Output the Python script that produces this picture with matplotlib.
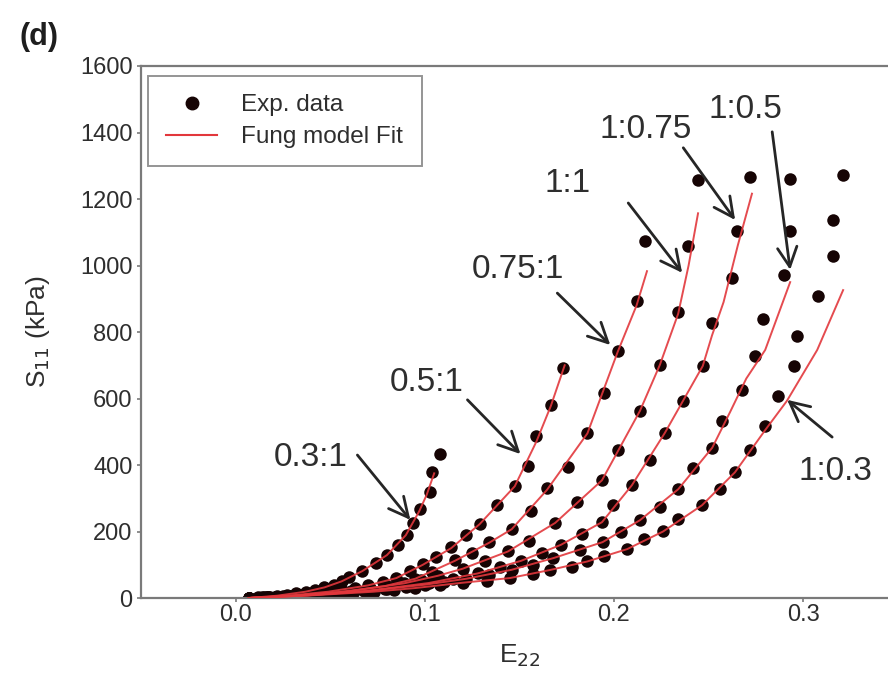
import matplotlib
matplotlib.use('Agg')
import matplotlib.pyplot as plt
from matplotlib.lines import Line2D

plt.rcParams['font.family'] = ['Liberation Sans', 'DejaVu Sans']

# ---------------- data ----------------
ratios = ['0.3:1', '0.5:1', '0.75:1', '1:1', '1:0.75', '1:0.5', '1:0.3']
x_ticks = [0.0, 0.1, 0.2, 0.3]
x_tick_labels = ['0.0', '0.1', '0.2', '0.3']
y_ticks = [0, 200, 400, 600, 800, 1000, 1200, 1400, 1600]

# experimental data, E22 and S11 (kPa)
e03_x = [0.007, 0.012, 0.017, 0.022, 0.027, 0.032, 0.037, 0.042, 0.047, 0.052, 0.056, 0.060, 0.067, 0.074, 0.080, 0.086, 0.0905, 0.094, 0.0974, 0.1026, 0.104, 0.108]
e03_y = [0, 2, 4, 7, 10, 14, 19, 25, 32, 40, 50, 63, 81, 105, 129, 159, 189, 225, 267, 318, 378, 434]

e05_x = [0.007, 0.014, 0.021, 0.028, 0.035, 0.042, 0.049, 0.056, 0.063, 0.070, 0.078, 0.085, 0.092, 0.099, 0.106, 0.114, 0.122, 0.129, 0.138, 0.1476, 0.1545, 0.159, 0.1667, 0.173]
e05_y = [0, 2, 4, 7, 10, 14, 19, 24, 30, 38, 48, 60, 80, 102, 123, 153, 189, 222, 279, 336, 398, 488, 581, 692]

e075_x = [0.007, 0.015, 0.023, 0.031, 0.039, 0.047, 0.055, 0.063, 0.071, 0.079, 0.087, 0.095, 0.104, 0.116, 0.125, 0.134, 0.146, 0.156, 0.1646, 0.176, 0.186, 0.195, 0.202, 0.212, 0.2164]
e075_y = [0, 2, 4, 7, 10, 14, 18, 23, 29, 36, 45, 58, 78, 114, 135, 168, 207, 263, 330, 395, 497, 617, 743, 893, 1073]

e1_x = [0.007, 0.016, 0.025, 0.034, 0.043, 0.052, 0.061, 0.070, 0.080, 0.089, 0.098, 0.107, 0.120, 0.132, 0.144, 0.155, 0.169, 0.1807, 0.1937, 0.202, 0.2138, 0.2243, 0.234, 0.239, 0.2444]
e1_y = [0, 2, 5, 8, 12, 16, 21, 27, 35, 44, 54, 67, 88, 112, 140, 170, 226, 289, 354, 446, 563, 701, 860, 1058, 1258]

e1075_x = [0.007, 0.017, 0.027, 0.038, 0.048, 0.058, 0.070, 0.080, 0.091, 0.102, 0.115, 0.128, 0.140, 0.151, 0.162, 0.172, 0.183, 0.1937, 0.1995, 0.2095, 0.219, 0.227, 0.2365, 0.247, 0.2519, 0.2624, 0.265, 0.272]
e1075_y = [0, 2, 5, 8, 12, 16, 22, 28, 36, 45, 58, 74, 92, 112, 135, 160, 193, 228, 279, 339, 416, 497, 593, 698, 827, 962, 1105, 1267]

e105_x = [0.007, 0.017, 0.027, 0.038, 0.048, 0.058, 0.068, 0.079, 0.090, 0.100, 0.110, 0.122, 0.134, 0.146, 0.157, 0.168, 0.182, 0.194, 0.204, 0.2138, 0.2243, 0.234, 0.242, 0.252, 0.257, 0.2677, 0.2746, 0.279, 0.290, 0.293, 0.293]
e105_y = [0, 2, 5, 8, 11, 15, 20, 26, 33, 40, 47, 58, 70, 85, 100, 120, 145, 168, 198, 234, 273, 327, 392, 452, 533, 626, 728, 839, 971, 1103, 1259]

e103_x = [0.007, 0.018, 0.029, 0.040, 0.051, 0.062, 0.073, 0.084, 0.095, 0.108, 0.120, 0.133, 0.145, 0.157, 0.166, 0.178, 0.186, 0.195, 0.207, 0.216, 0.226, 0.234, 0.2466, 0.256, 0.264, 0.272, 0.280, 0.287, 0.295, 0.297, 0.308, 0.316, 0.316, 0.321]
e103_y = [0, 2, 5, 8, 11, 15, 19, 24, 30, 38, 46, 52, 60, 72, 84, 93, 111, 126, 147, 177, 201, 239, 279, 327, 378, 446, 518, 608, 698, 788, 908, 1028, 1136, 1273]

# Fung model fit curves
f03_x = [0.007, 0.022, 0.037, 0.047, 0.056, 0.067, 0.080, 0.090, 0.097, 0.101, 0.105]
f03_y = [0, 7, 19, 32, 50, 81, 129, 189, 260, 310, 375]

f05_x = [0.007, 0.028, 0.049, 0.070, 0.085, 0.099, 0.114, 0.129, 0.1476, 0.159, 0.1667, 0.174]
f05_y = [0, 7, 19, 38, 60, 100, 150, 222, 336, 470, 578, 700]

f075_x = [0.007, 0.031, 0.055, 0.079, 0.095, 0.116, 0.134, 0.146, 0.1646, 0.186, 0.202, 0.212, 0.2175]
f075_y = [0, 7, 18, 36, 58, 112, 166, 207, 325, 495, 740, 880, 983]

f1_x = [0.007, 0.034, 0.061, 0.089, 0.107, 0.120, 0.144, 0.169, 0.1937, 0.2138, 0.2243, 0.234, 0.2395, 0.2445]
f1_y = [0, 8, 21, 44, 67, 88, 140, 226, 354, 563, 701, 855, 1000, 1157]

f1075_x = [0.007, 0.038, 0.070, 0.102, 0.128, 0.151, 0.172, 0.1937, 0.2095, 0.227, 0.247, 0.2519, 0.258, 0.2655, 0.273]
f1075_y = [0, 8, 22, 45, 74, 112, 160, 228, 339, 497, 698, 790, 890, 1060, 1216]

f105_x = [0.007, 0.038, 0.068, 0.100, 0.122, 0.146, 0.168, 0.194, 0.2138, 0.234, 0.252, 0.2615, 0.270, 0.280, 0.2932]
f105_y = [0, 8, 20, 40, 58, 85, 120, 168, 234, 327, 452, 560, 660, 746, 950]

f103_x = [0.007, 0.040, 0.073, 0.095, 0.120, 0.145, 0.166, 0.186, 0.207, 0.226, 0.2466, 0.264, 0.280, 0.2915, 0.3075, 0.3212]
f103_y = [0, 8, 19, 30, 46, 60, 84, 110, 147, 200, 279, 378, 505, 593, 746, 926]

exp_sets = [(e03_x, e03_y), (e05_x, e05_y), (e075_x, e075_y), (e1_x, e1_y),
            (e1075_x, e1075_y), (e105_x, e105_y), (e103_x, e103_y)]
fit_sets = [(f03_x, f03_y), (f05_x, f05_y), (f075_x, f075_y), (f1_x, f1_y),
            (f1075_x, f1075_y), (f105_x, f105_y), (f103_x, f103_y)]

# annotation placement: (text x, text y, arrow start x, y, arrow tip x, y)
ann_pos = [
    (0.0396, 424, 0.0644, 430, 0.0924, 235),
    (0.1009, 647, 0.1226, 596, 0.1506, 433),
    (0.1495, 987, 0.1701, 917, 0.1981, 761),
    (0.1754, 1248, 0.2076, 1188, 0.2361, 978),
    (0.2166, 1408, 0.2367, 1354, 0.2641, 1137),
    (0.2694, 1468, 0.2837, 1402, 0.2932, 987),
    (0.3170, 379, 0.3154, 484, 0.2916, 596),
]

# ---------------- figure ----------------
fig = plt.figure(figsize=(8.88, 6.94), dpi=100)
ax = fig.add_axes([0.1588, 0.1383, 0.852, 0.7666])

dot_color = '#160404'
line_color = '#e2373c'
axis_color = '#7a7a7a'
text_color = '#2e2e2e'

for (xs, ys) in exp_sets:
    ax.plot(xs, ys, 'o', color=dot_color, markersize=9, markeredgewidth=0, zorder=2)
for (xs, ys) in fit_sets:
    ax.plot(xs, ys, '-', color=line_color, lw=1.4, zorder=3, alpha=0.9)

for lab, (tx, ty, sx, sy, hx, hy) in zip(ratios, ann_pos):
    ax.text(tx, ty, lab, fontsize=24, color=text_color, ha='center', va='center', zorder=5)
    ax.annotate('', xy=(hx, hy), xytext=(sx, sy),
                arrowprops=dict(arrowstyle='->,head_length=0.7,head_width=0.35',
                                color='#262626', lw=2.0, mutation_scale=20,
                                shrinkA=0, shrinkB=0), zorder=5)

ax.set_xlim(-0.05, 0.35)
ax.set_ylim(0, 1600)
ax.set_xticks(x_ticks)
ax.set_xticklabels(x_tick_labels)
ax.set_yticks(y_ticks)

for side in ['left', 'bottom', 'top', 'right']:
    ax.spines[side].set_color(axis_color)
    ax.spines[side].set_linewidth(1.6)
ax.tick_params(direction='out', length=3, width=1.2, color=axis_color,
               labelsize=17, labelcolor=text_color, pad=3)
ax.tick_params(axis='x', pad=1.5)

ax.set_xlabel('E$_{22}$', fontsize=19, color=text_color, labelpad=12)
ax.set_ylabel('S$_{11}$ (kPa)', fontsize=19, color=text_color, labelpad=20)

handles = [Line2D([], [], marker='o', ls='none', color=dot_color, markersize=9),
           Line2D([], [], color=line_color, lw=1.5)]
leg = ax.legend(handles, ['Exp. data', 'Fung model Fit'], loc='upper left',
                bbox_to_anchor=(0.009, 0.981), borderaxespad=0, fontsize=17.5,
                frameon=True, fancybox=False, handlelength=2.1, handletextpad=1.0,
                borderpad=0.75, labelspacing=0.4)
leg.get_frame().set_edgecolor(axis_color)
leg.get_frame().set_linewidth(1.4)
for t in leg.get_texts():
    t.set_color(text_color)

fig.text(0.022, 0.947, '(d)', fontsize=22, fontweight='bold', color='#1e1e1e',
         ha='left', va='center')

fig.savefig('out.png', dpi=100, facecolor='white')
